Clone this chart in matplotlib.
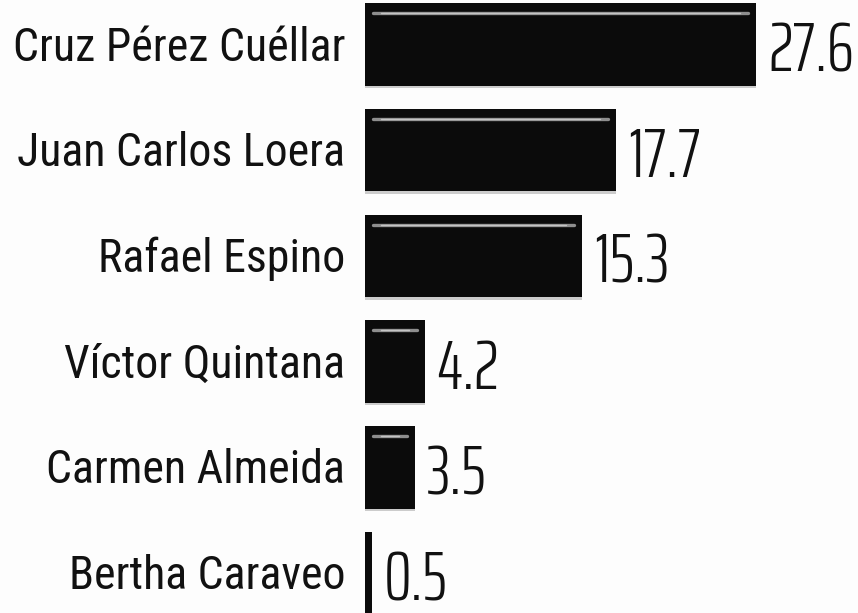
import matplotlib
matplotlib.use("Agg")
import matplotlib.pyplot as plt

candidatos = ["Cruz Pérez Cuéllar", "Juan Carlos Loera", "Rafael Espino",
              "Víctor Quintana", "Carmen Almeida", "Bertha Caraveo"]
valores = [27.6, 17.7, 15.3, 4.2, 3.5, 0.5]

fuente_nombres = ["Roboto Condensed", "Liberation Sans", "DejaVu Sans"]
fuente_valores = ["Saira ExtraCondensed", "Roboto Condensed", "DejaVu Sans"]

fig = plt.figure(figsize=(8.58, 6.13), dpi=100)
fig.patch.set_facecolor("#fdfdfd")
ax = fig.add_axes([0, 0, 1, 1])
ax.set_facecolor("#fdfdfd")

pos = list(range(len(valores)))
alto = 0.78

# sombra y barras
ax.barh([p + 0.025 for p in pos], valores, height=alto, color="#9c9c9c", alpha=0.5, zorder=2)
ax.barh(pos, valores, height=alto, color="#0b0b0b", zorder=3)

ax.set_xlim(-25.76, 34.79)
ax.set_ylim(5.378, -0.421)
ax.axis("off")

# brillo en la parte de arriba
px_x = 858 / (34.79 + 25.76)
px_y = 613 / (5.378 + 0.421)
for p, v in zip(pos, valores):
    if v < 1:
        continue
    margen = 8 / px_x
    y = p - alto / 2 + 10 / px_y
    ax.plot([margen, v - margen], [y, y], color="#8e8e8e", lw=2.4,
            solid_capstyle="round", zorder=4)
    ax.plot([margen * 2, v - margen * 2], [y, y], color="#c4c4c4", lw=1.0,
            solid_capstyle="round", zorder=5)

for p, nombre, v in zip(pos, candidatos, valores):
    ax.annotate(nombre, xy=(0, p), xytext=(-20, -16), textcoords="offset pixels",
                ha="right", va="baseline", fontsize=33, family=fuente_nombres, color="#111111")
    ax.annotate(f"{v}", xy=(v, p), xytext=(12, -27), textcoords="offset pixels",
                ha="left", va="baseline", fontsize=50, fontweight=300,
                family=fuente_valores, color="#111111")

fig.savefig("out.png", dpi=100, facecolor=fig.get_facecolor())
